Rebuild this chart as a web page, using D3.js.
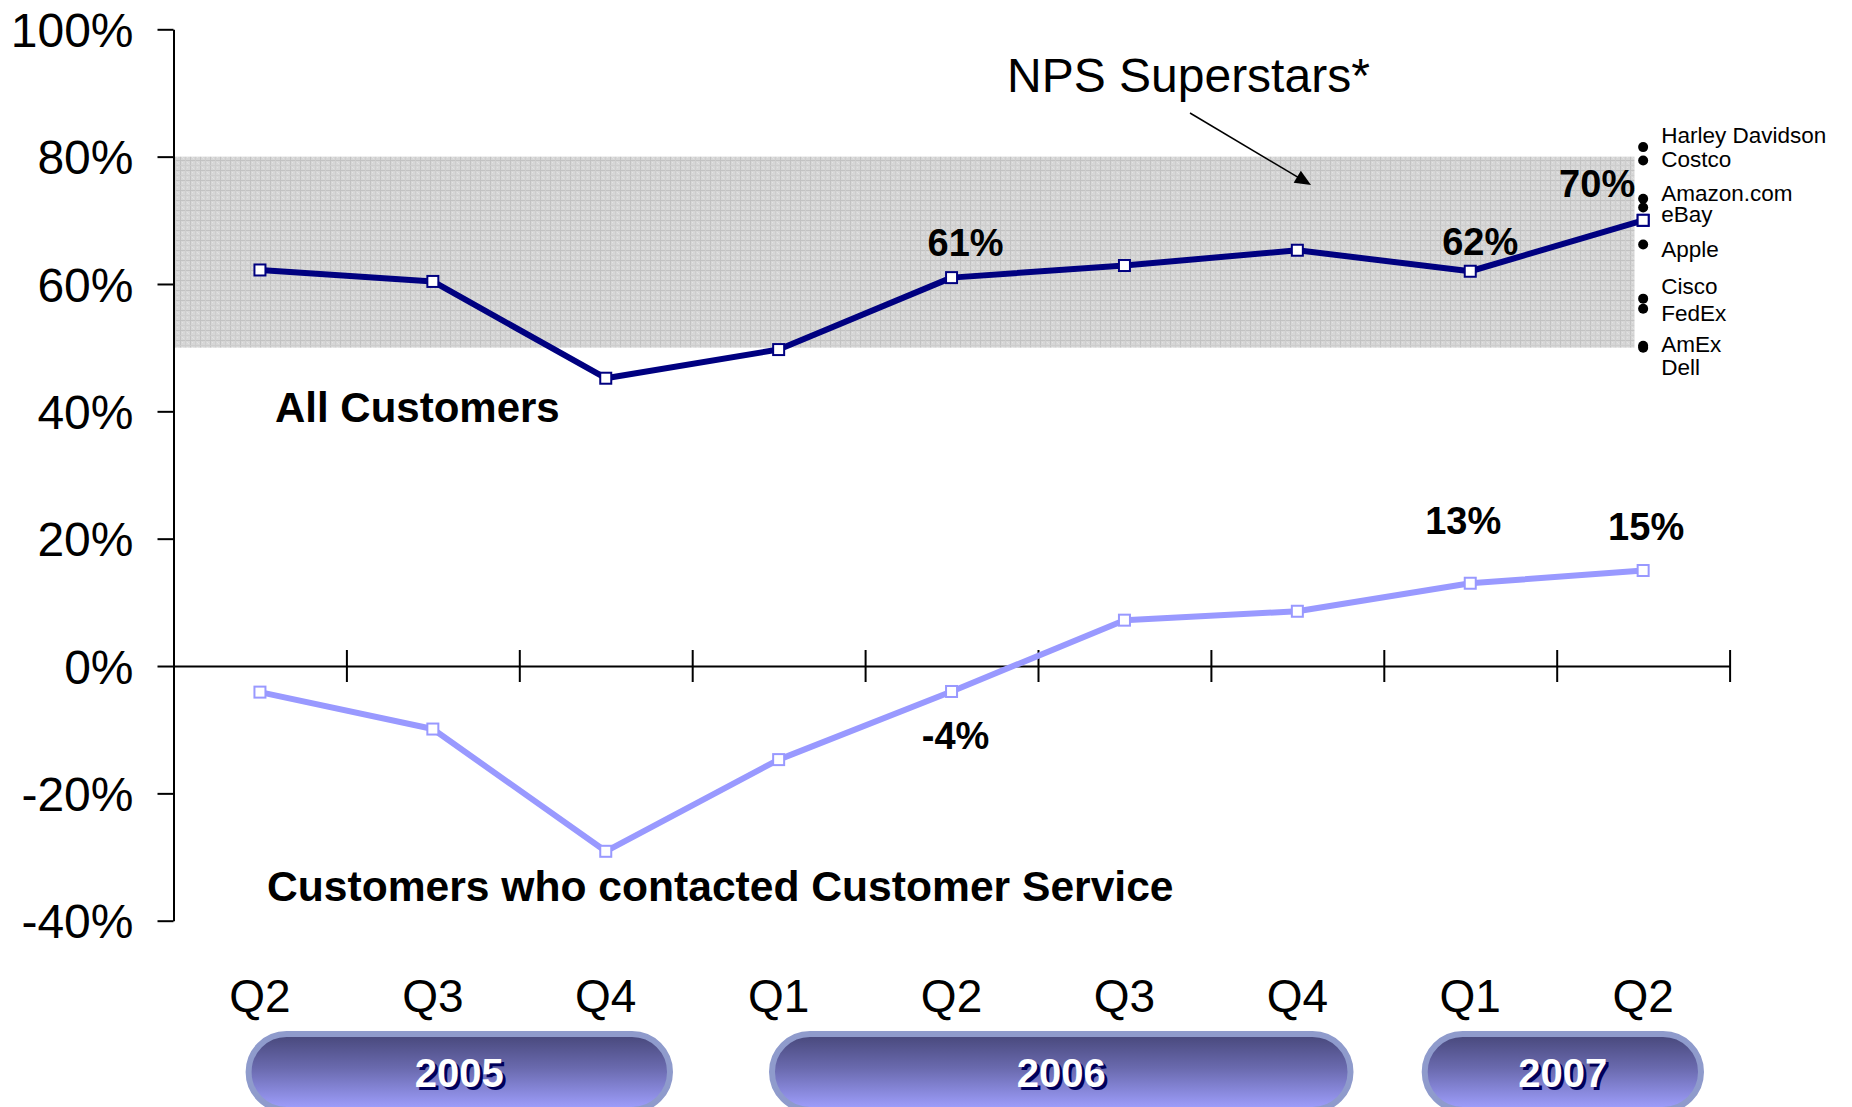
<!DOCTYPE html>
<html>
<head>
<meta charset="utf-8">
<script src="https://cdn.jsdelivr.net/npm/d3@7/dist/d3.min.js"></script>
<style>
  html, body { margin: 0; padding: 0; background: #ffffff; }
  svg { display: block; font-family: "Liberation Sans", Arial, sans-serif; }
</style>
</head>
<body>
<svg id="chart" width="1852" height="1107"></svg>
<script>
// Net Promoter Score by quarter
const quarters = ["Q2", "Q3", "Q4", "Q1", "Q2", "Q3", "Q4", "Q1", "Q2"];
const years = ["2005", "2006", "2007"];
const allCustomers = [62.2, 60.4, 45.2, 49.7, 61, 62.9, 65.3, 62, 70];
const contactedService = [-4.1, -9.9, -29.1, -14.7, -4, 7.2, 8.6, 13, 15];
const yTicks = [-40, -20, 0, 20, 40, 60, 80, 100];
const superstarBand = [50, 80];

// Benchmark companies (NPS)
const superstarNames = ["Harley Davidson", "Costco", "Amazon.com", "eBay", "Apple", "Cisco", "FedEx", "AmEx", "Dell"];
const superstarValues = [81.5, 79.4, 73.4, 72, 66.2, 57.7, 56.1, 50.3, 50];

// Indices of the labelled points in each series
const allLabels = [4, 7, 8];
const contactedLabels = [4, 7, 8];

(function () {
  // ---- layout ----
  const svg = d3.select("#chart");
  const plotLeft = 173.5, plotRight = 1729.6, plotTop = 29.3, plotBottom = 920.7;
  const font = "'Liberation Sans', Arial, sans-serif";

  const x = d3.scaleLinear().domain([0, quarters.length]).range([plotLeft, plotRight]);
  const y = d3.scaleLinear().domain([-40, 100]).range([plotBottom, plotTop]);
  const cx = i => x(i + 0.5);

  // Grey texture for the superstar band
  const defs = svg.append("defs");
  const pat = defs.append("pattern").attr("id", "texture")
    .attr("patternUnits", "userSpaceOnUse").attr("width", 10).attr("height", 10);
  pat.append("rect").attr("width", 10).attr("height", 10).attr("fill", "#d6d6d6");
  pat.append("rect").attr("x", 0).attr("y", 0).attr("width", 1).attr("height", 10).attr("fill", "#c2c2c2");
  pat.append("rect").attr("x", 0).attr("y", 0).attr("width", 10).attr("height", 1).attr("fill", "#c2c2c2");
  pat.append("rect").attr("x", 5).attr("y", 0).attr("width", 1).attr("height", 10).attr("fill", "#cdcdcd");
  pat.append("rect").attr("x", 0).attr("y", 5).attr("width", 10).attr("height", 1).attr("fill", "#cdcdcd");
  [[2, 2], [7, 2], [2, 7], [7, 7], [3, 8], [8, 3]].forEach(([a, b]) =>
    pat.append("rect").attr("x", a).attr("y", b).attr("width", 1).attr("height", 1).attr("fill", "#e2e2e2"));

  const grad = defs.append("linearGradient").attr("id", "pill").attr("x1", 0).attr("y1", 0).attr("x2", 0).attr("y2", 1);
  grad.append("stop").attr("offset", "0%").attr("stop-color", "#47477a");
  grad.append("stop").attr("offset", "45%").attr("stop-color", "#6a6aae");
  grad.append("stop").attr("offset", "100%").attr("stop-color", "#a0a0ff");

  // Superstar band
  svg.append("rect")
    .attr("x", plotLeft).attr("y", y(superstarBand[1]))
    .attr("width", x(8.45) - plotLeft)
    .attr("height", y(superstarBand[0]) - y(superstarBand[1]))
    .attr("fill", "url(#texture)");

  // Y axis
  const yAxis = svg.append("g").attr("transform", `translate(${plotLeft},0)`)
    .call(d3.axisLeft(y).tickValues(yTicks).tickFormat(d => d + "%")
      .tickSize(16).tickSizeOuter(0).tickPadding(24));
  yAxis.select(".domain").attr("stroke", "#000").attr("stroke-width", 2);
  yAxis.selectAll(".tick line").attr("stroke", "#000").attr("stroke-width", 2);
  yAxis.selectAll(".tick text").attr("font-family", font).attr("font-size", 48)
    .attr("fill", "#000").attr("dy", "0.36em");

  // X axis at zero with ticks at quarter boundaries
  const xAxis = svg.append("g").attr("transform", `translate(0,${y(0)})`)
    .call(d3.axisBottom(x).tickValues(d3.range(0, quarters.length + 1)).tickFormat("")
      .tickSizeOuter(0));
  xAxis.select(".domain").attr("stroke", "#000").attr("stroke-width", 2);
  xAxis.selectAll(".tick line").attr("stroke", "#000").attr("stroke-width", 2)
    .attr("y1", -16).attr("y2", 16);

  // Series lines with square markers
  const line = d3.line().x((d, i) => cx(i)).y(d => y(d));
  function drawSeries(values, color) {
    svg.append("path").datum(values)
      .attr("d", line).attr("fill", "none")
      .attr("stroke", color).attr("stroke-width", 6).attr("stroke-linejoin", "round");
    svg.append("g").selectAll("rect").data(values).join("rect")
      .attr("x", (d, i) => cx(i) - 5.5).attr("y", d => y(d) - 5.5)
      .attr("width", 11).attr("height", 11)
      .attr("fill", "#fff").attr("stroke", color).attr("stroke-width", 2);
  }
  drawSeries(contactedService, "#9999ff");
  drawSeries(allCustomers, "#000080");

  // Superstar dots and names
  const starX = cx(quarters.length - 1);
  const nameDy = [-4.5, 7, 2, 14.5, 12, -5, 12, 6.5, 27];
  svg.append("g").selectAll("circle").data(superstarValues).join("circle")
    .attr("cx", starX).attr("cy", d => y(d)).attr("r", 5).attr("fill", "#000");
  // latest All Customers marker stays on top of the eBay dot
  svg.append("rect")
    .attr("x", starX - 5.5).attr("y", y(allCustomers[8]) - 5.5).attr("width", 11).attr("height", 11)
    .attr("fill", "#fff").attr("stroke", "#000080").attr("stroke-width", 2);
  svg.append("g").selectAll("text").data(superstarNames).join("text")
    .attr("x", starX + 18)
    .attr("y", (d, i) => y(superstarValues[i]) + nameDy[i])
    .attr("font-family", font).attr("font-size", 22.5).attr("fill", "#000")
    .text(d => d);

  // Value labels
  const pct = v => Math.round(v) + "%";
  const allOffsets = { 4: [14, -22], 7: [10, -16], 8: [-46, -23] };
  const contactedOffsets = { 4: [4, 58], 7: [-7, -49], 8: [3, -31] };
  function valueLabels(values, idx, offs) {
    svg.append("g").selectAll("text").data(idx).join("text")
      .attr("x", i => cx(i) + offs[i][0])
      .attr("y", i => y(values[i]) + offs[i][1])
      .attr("text-anchor", "middle")
      .attr("font-family", font).attr("font-size", 38).attr("font-weight", "bold")
      .attr("fill", "#000")
      .text(i => pct(values[i]));
  }
  valueLabels(allCustomers, allLabels, allOffsets);
  valueLabels(contactedService, contactedLabels, contactedOffsets);

  // Series names
  svg.append("text").attr("x", 275).attr("y", 421.7)
    .attr("font-family", font).attr("font-size", 42).attr("font-weight", "bold")
    .text("All Customers");
  svg.append("text").attr("x", 267).attr("y", 901)
    .attr("font-family", font).attr("font-size", 42.6).attr("font-weight", "bold")
    .text("Customers who contacted Customer Service");

  // Band annotation with arrow
  svg.append("text").attr("x", 1007).attr("y", 92)
    .attr("font-family", font).attr("font-size", 48).attr("fill", "#000")
    .text("NPS Superstars*");
  const ax1 = 1190, ay1 = 113, ax2 = 1311, ay2 = 185;
  const ang = Math.atan2(ay2 - ay1, ax2 - ax1);
  svg.append("line")
    .attr("x1", ax1).attr("y1", ay1)
    .attr("x2", ax2 - 12 * Math.cos(ang)).attr("y2", ay2 - 12 * Math.sin(ang))
    .attr("stroke", "#000").attr("stroke-width", 1.5);
  svg.append("path").attr("d", "M0,0 L-16,-7 L-16,7 Z")
    .attr("transform", `translate(${ax2},${ay2}) rotate(${ang * 180 / Math.PI})`)
    .attr("fill", "#000");

  // Quarter labels
  svg.append("g").selectAll("text").data(quarters).join("text")
    .attr("x", (d, i) => cx(i)).attr("y", 1012)
    .attr("text-anchor", "middle")
    .attr("font-family", font).attr("font-size", 46).attr("fill", "#000")
    .text(d => d);

  // Year pills
  const pillX = [[245.6, 673], [769, 1353.5], [1421.7, 1704]];
  const pills = svg.append("g").selectAll("g").data(years).join("g");
  pills.append("rect")
    .attr("x", (d, i) => pillX[i][0] + 3).attr("y", 1034)
    .attr("width", (d, i) => pillX[i][1] - pillX[i][0] - 6).attr("height", 76)
    .attr("rx", 38).attr("ry", 38)
    .attr("fill", "url(#pill)").attr("stroke", "#8f9bcc").attr("stroke-width", 6);
  pills.append("text")
    .attr("x", (d, i) => (pillX[i][0] + pillX[i][1]) / 2 + 3).attr("y", 1090)
    .attr("text-anchor", "middle")
    .attr("font-family", font).attr("font-size", 40).attr("font-weight", "bold")
    .attr("fill", "#00005a")
    .text(d => d);
  pills.append("text")
    .attr("x", (d, i) => (pillX[i][0] + pillX[i][1]) / 2).attr("y", 1087)
    .attr("text-anchor", "middle")
    .attr("font-family", font).attr("font-size", 40).attr("font-weight", "bold")
    .attr("fill", "#ffffff")
    .text(d => d);
})();
</script>
</body>
</html>
